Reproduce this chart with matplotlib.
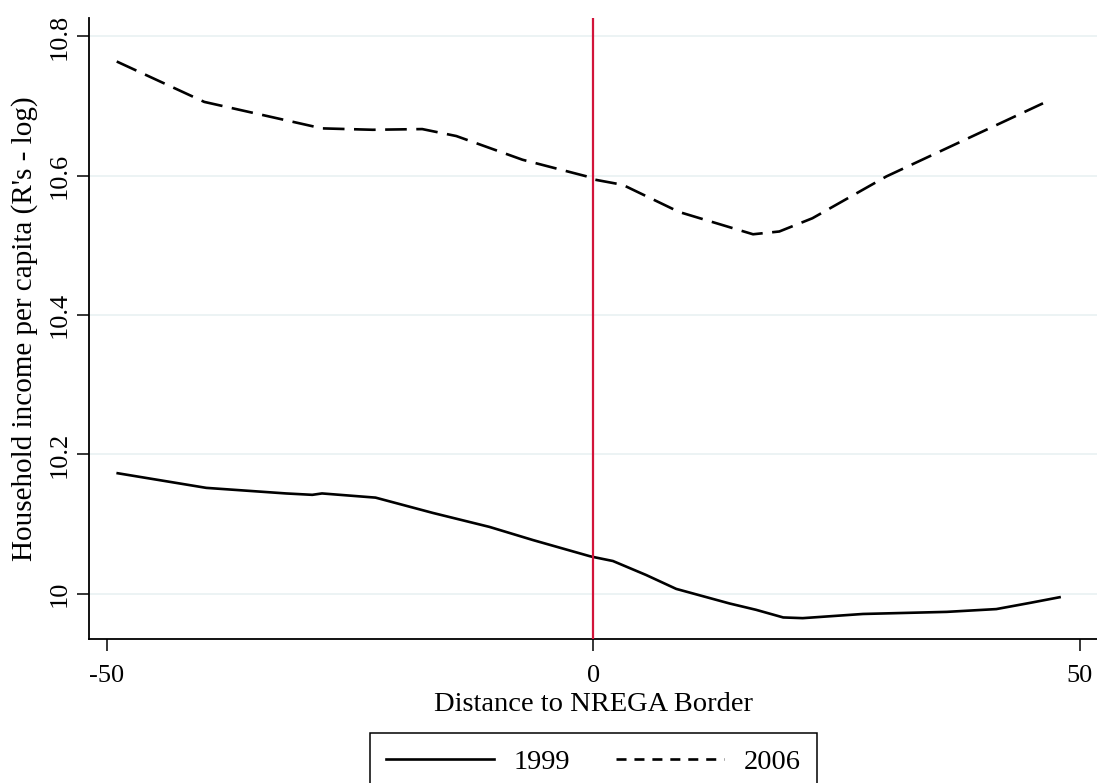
import matplotlib
matplotlib.use("Agg")
import matplotlib.pyplot as plt
from matplotlib.lines import Line2D

plt.rcParams['font.family'] = ['Liberation Serif', 'DejaVu Serif']

# Data
x_1999 = [-48.9, -39.8, -31.6, -28.9, -27.9, -22.4, -16.5, -10.7, -6.2, -0.4, -0.1,
          2.0, 5.4, 8.5, 14.0, 16.7, 19.5, 21.5, 27.7, 36.3, 41.4, 44.9, 47.9]
y_1999 = [10.173, 10.152, 10.144, 10.142, 10.144, 10.138, 10.116, 10.096, 10.077, 10.054, 10.053,
          10.047, 10.027, 10.007, 9.986, 9.977, 9.966, 9.965, 9.971, 9.974, 9.978, 9.987, 9.995]

x_2006 = [-49.0, -40.0, -27.9, -22.7, -17.6, -14.1, -7.3, -0.4, -0.1, 3.0, 8.8,
          16.4, 19.1, 22.5, 30.1, 46.2]
y_2006 = [10.764, 10.706, 10.668, 10.666, 10.667, 10.657, 10.623, 10.598, 10.595, 10.587, 10.548,
          10.516, 10.520, 10.539, 10.599, 10.704]

x_ticks = [-50, 0, 50]
x_tick_labels = ["-50", "0", "50"]
y_ticks = [10.0, 10.2, 10.4, 10.6, 10.8]
y_tick_labels = ["10", "10.2", "10.4", "10.6", "10.8"]
series_labels = ["1999", "2006"]
border_x = 0

W, H = 1097, 783
fig = plt.figure(figsize=(W / 100, H / 100), dpi=100)
ax = fig.add_axes([89 / W, 1 - 638.7 / H, (W - 89) / W, (638.7 - 18.3) / H])

ax.set_xlim(-51.85, 51.75)
ax.set_ylim(9.9355, 10.826)

for yt in y_ticks:
    ax.axhline(yt, color='#EAF2F3', lw=1.3, zorder=0)

ax.plot(x_1999, y_1999, color='black', lw=1.9, solid_joinstyle='round', zorder=3)
ax.plot(x_2006, y_2006, color='black', lw=1.9, dashes=(8.2, 3.6), zorder=3)
ax.axvline(border_x, color='#D2143A', lw=1.6, zorder=4)

for s in ['top', 'right']:
    ax.spines[s].set_visible(False)
for s in ['left', 'bottom']:
    ax.spines[s].set_linewidth(1.3)

ax.set_xticks(x_ticks)
ax.set_xticklabels(x_tick_labels, fontsize=19)
ax.set_yticks(y_ticks)
ax.set_yticklabels(y_tick_labels, fontsize=19, rotation=90, va='center')
ax.tick_params(axis='both', direction='out', length=8.3, width=1.1)
ax.tick_params(axis='x', pad=10.5)
ax.tick_params(axis='y', pad=5)

ax.set_xlabel("Distance to NREGA Border", fontsize=20.5, labelpad=3.5)
ax.set_ylabel("Household income per capita (R's - log)", fontsize=21)
ax.yaxis.set_label_coords(-0.051, 0.5)

h1 = Line2D([], [], color='black', lw=1.9)
h2 = Line2D([], [], color='black', lw=1.9, dashes=(3.8, 3.0))
leg = fig.legend([h1, h2], series_labels, loc='upper center',
                 bbox_to_anchor=(593.5 / W, 1 - 733.3 / H), ncol=2, fontsize=20.5,
                 frameon=True, fancybox=False, edgecolor='black', framealpha=1,
                 handlelength=3.8, handletextpad=0.7, columnspacing=1.6,
                 borderpad=0.55, borderaxespad=0)
leg.get_frame().set_linewidth(1.1)

fig.savefig("out.png", dpi=100)
